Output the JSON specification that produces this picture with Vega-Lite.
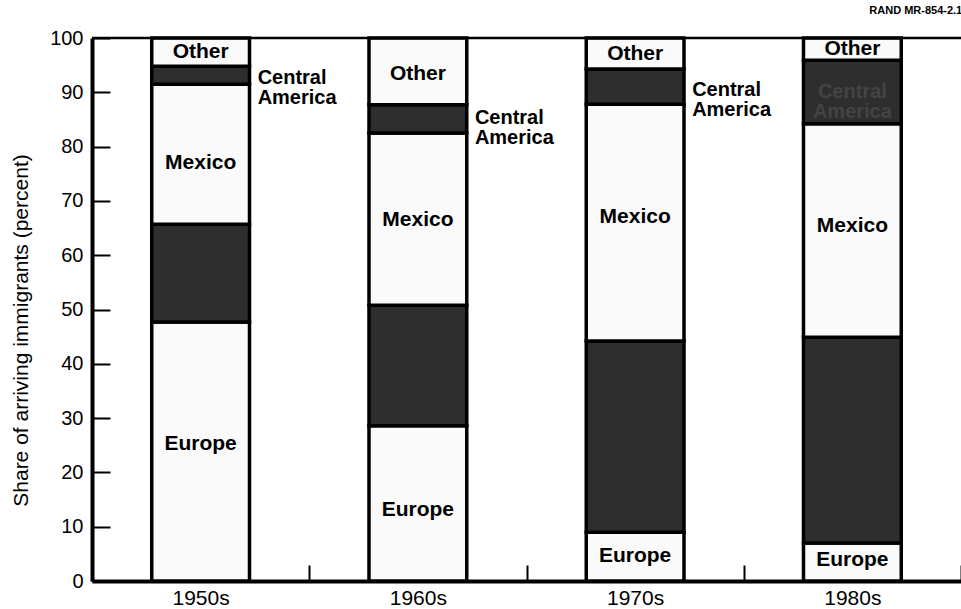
{
  "$schema": "https://vega.github.io/schema/vega-lite/v6.json",
  "width": 869,
  "height": 543,
  "autosize": "none",
  "padding": {"left": 92, "top": 38, "right": 0, "bottom": 28},
  "background": "white",
  "title": {"text": "RAND MR-854-2.1", "anchor": "end", "fontSize": 11, "font": "Liberation Sans", "fontWeight": "bold", "color": "black", "offset": 12},
  "config": {
    "view": {"stroke": null},
    "font": "Liberation Sans",
    "axis": {"labelFont": "Liberation Sans", "titleFont": "Liberation Sans", "labelColor": "black", "titleColor": "black", "domainColor": "black", "tickColor": "black"}
  },
  "datasets": {
    "bars": [
      {"decade": "1950s", "region": "Europe", "ord": 1, "share": 47.7},
      {"decade": "1950s", "region": "Asia", "ord": 2, "share": 18.0},
      {"decade": "1950s", "region": "Mexico", "ord": 3, "share": 25.8},
      {"decade": "1950s", "region": "Central America", "ord": 4, "share": 3.3},
      {"decade": "1950s", "region": "Other", "ord": 5, "share": 5.2},
      {"decade": "1960s", "region": "Europe", "ord": 1, "share": 28.6},
      {"decade": "1960s", "region": "Asia", "ord": 2, "share": 22.2},
      {"decade": "1960s", "region": "Mexico", "ord": 3, "share": 31.7},
      {"decade": "1960s", "region": "Central America", "ord": 4, "share": 5.2},
      {"decade": "1960s", "region": "Other", "ord": 5, "share": 12.3},
      {"decade": "1970s", "region": "Europe", "ord": 1, "share": 9.0},
      {"decade": "1970s", "region": "Asia", "ord": 2, "share": 35.2},
      {"decade": "1970s", "region": "Mexico", "ord": 3, "share": 43.6},
      {"decade": "1970s", "region": "Central America", "ord": 4, "share": 6.5},
      {"decade": "1970s", "region": "Other", "ord": 5, "share": 5.7},
      {"decade": "1980s", "region": "Europe", "ord": 1, "share": 7.0},
      {"decade": "1980s", "region": "Asia", "ord": 2, "share": 37.9},
      {"decade": "1980s", "region": "Mexico", "ord": 3, "share": 39.3},
      {"decade": "1980s", "region": "Central America", "ord": 4, "share": 11.7},
      {"decade": "1980s", "region": "Other", "ord": 5, "share": 4.1}
    ],
    "labels": [
      {"decade": "1950s", "label": "Other", "pos": 97.4, "placement": "inside"},
      {"decade": "1950s", "label": "Mexico", "pos": 77.0, "placement": "inside"},
      {"decade": "1950s", "label": "Europe", "pos": 25.2, "placement": "inside"},
      {"decade": "1950s", "label": "Central\nAmerica", "pos": 92.6, "placement": "right"},
      {"decade": "1960s", "label": "Other", "pos": 93.4, "placement": "inside"},
      {"decade": "1960s", "label": "Mexico", "pos": 66.5, "placement": "inside"},
      {"decade": "1960s", "label": "Europe", "pos": 13.0, "placement": "inside"},
      {"decade": "1960s", "label": "Central\nAmerica", "pos": 85.3, "placement": "right"},
      {"decade": "1970s", "label": "Other", "pos": 97.0, "placement": "inside"},
      {"decade": "1970s", "label": "Mexico", "pos": 67.0, "placement": "inside"},
      {"decade": "1970s", "label": "Europe", "pos": 4.6, "placement": "inside"},
      {"decade": "1970s", "label": "Central\nAmerica", "pos": 90.4, "placement": "right"},
      {"decade": "1980s", "label": "Other", "pos": 98.0, "placement": "inside"},
      {"decade": "1980s", "label": "Mexico", "pos": 65.4, "placement": "inside"},
      {"decade": "1980s", "label": "Europe", "pos": 3.9, "placement": "inside"},
      {"decade": "1980s", "label": "Central\nAmerica", "pos": 90.0, "placement": "hidden"}
    ]
  },
  "layer": [
    {
      "data": {"name": "bars"},
      "mark": {"type": "bar", "width": {"band": 0.45}, "stroke": "black", "strokeWidth": 3.5},
      "encoding": {
        "x": {
          "field": "decade", "type": "nominal",
          "scale": {"paddingInner": 0, "paddingOuter": 0},
          "axis": {"title": null, "labelAngle": 0, "labelFontSize": 21, "domainWidth": 4, "tickBand": "extent", "tickSize": -16, "tickWidth": 2, "labelPadding": 22}
        },
        "y": {
          "field": "share", "type": "quantitative", "stack": "zero",
          "scale": {"domain": [0, 100], "nice": false},
          "axis": {"title": "Share of arriving immigrants (percent)", "titleFontSize": 21, "titleFontWeight": "normal", "titlePadding": 18, "titleY": 292, "values": [0,10,20,30,40,50,60,70,80,90,100], "labelFontSize": 20, "domainWidth": 4, "tickSize": -18, "tickWidth": 2, "labelPadding": 27, "grid": false}
        },
        "color": {
          "field": "region", "type": "nominal", "legend": null,
          "scale": {"domain": ["Europe", "Asia", "Mexico", "Central America", "Other"], "range": ["#fafafa", "#2e2e2e", "#fafafa", "#2e2e2e", "#fafafa"]}
        },
        "order": {"field": "ord", "type": "quantitative"}
      }
    },
    {
      "data": {"values": [{"top": 100}]},
      "mark": {"type": "rule", "strokeWidth": 2.5, "color": "black"},
      "encoding": {"y": {"field": "top", "type": "quantitative"}}
    },
    {
      "data": {"name": "labels"},
      "transform": [{"filter": "datum.placement === 'inside'"}],
      "mark": {"type": "text", "font": "Liberation Sans", "fontWeight": "bold", "fontSize": 21, "align": "center", "baseline": "middle", "color": "black"},
      "encoding": {
        "x": {"field": "decade", "type": "nominal"},
        "y": {"field": "pos", "type": "quantitative"},
        "text": {"field": "label"}
      }
    },
    {
      "data": {"name": "labels"},
      "transform": [{"filter": "datum.placement === 'right'"}],
      "mark": {"type": "text", "font": "Liberation Sans", "fontWeight": "bold", "fontSize": 20, "align": "left", "baseline": "middle", "dx": 57, "lineBreak": "\n", "lineHeight": 20, "color": "black"},
      "encoding": {
        "x": {"field": "decade", "type": "nominal"},
        "y": {"field": "pos", "type": "quantitative"},
        "text": {"field": "label"}
      }
    },
    {
      "data": {"name": "labels"},
      "transform": [{"filter": "datum.placement === 'hidden'"}],
      "mark": {"type": "text", "font": "Liberation Sans", "fontWeight": "bold", "fontSize": 20, "align": "center", "baseline": "middle", "lineBreak": "\n", "lineHeight": 20, "color": "#444444"},
      "encoding": {
        "x": {"field": "decade", "type": "nominal"},
        "y": {"field": "pos", "type": "quantitative"},
        "text": {"field": "label"}
      }
    }
  ]
}
